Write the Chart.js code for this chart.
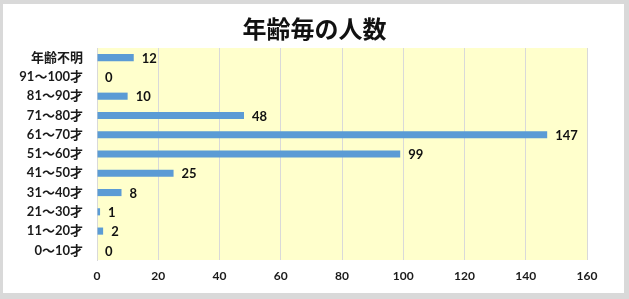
<!DOCTYPE html>
<html>
<head>
<meta charset="utf-8">
<script src="https://cdn.jsdelivr.net/npm/chart.js@4/dist/chart.umd.min.js"></script>
<style>
  body { margin: 0; background: #ffffff; }
  #frame {
    position: relative; width: 629px; height: 299px;
    background: #d9d9d9;
  }
  #inner {
    position: absolute; left: 3px; top: 4px; width: 621px; height: 289px;
    background: #ffffff;
  }
  canvas { position: absolute; left: 0; top: 0; }
</style>
</head>
<body>
<div id="frame"><div id="inner"></div>
  <canvas id="barChart" width="629" height="299"></canvas>
</div>
<script>
// 年齢毎の人数 (上から順)
const ageGroups = ['年齢不明', '91～100才', '81～90才', '71～80才', '61～70才', '51～60才',
                   '41～50才', '31～40才', '21～30才', '11～20才', '0～10才'];
const counts = [12, 0, 10, 48, 147, 99, 25, 8, 1, 2, 0];
const xTicks = [0, 20, 40, 60, 80, 100, 120, 140, 160];
const chartTitle = '年齢毎の人数';

const fontFamily = "Lato, 'Noto Sans CJK JP', sans-serif";

// プロットエリアの背景色
const plotBackground = {
    id: 'plotBackground',
    beforeDraw(chart) {
        const a = chart.chartArea;
        const ctx = chart.ctx;
        ctx.save();
        ctx.fillStyle = '#ffffcc';
        ctx.fillRect(a.left, a.top, a.right - a.left, a.bottom - a.top);
        ctx.restore();
    }
};

// タイトルは枠全体の中央に置く
const centerTitle = {
    id: 'centerTitle',
    afterDraw(chart) {
        const ctx = chart.ctx;
        ctx.save();
        ctx.font = 'bold 24px ' + fontFamily;
        ctx.fillStyle = '#111111';
        ctx.textAlign = 'center';
        ctx.textBaseline = 'middle';
        ctx.fillText(chartTitle, chart.width / 2, 30);
        ctx.restore();
    }
};

// 棒の右に数値を表示
const valueLabels = {
    id: 'valueLabels',
    afterDatasetsDraw(chart) {
        const ctx = chart.ctx;
        const meta = chart.getDatasetMeta(0);
        ctx.save();
        ctx.font = 'bold 13px ' + fontFamily;
        ctx.fillStyle = '#111111';
        ctx.textAlign = 'left';
        ctx.textBaseline = 'middle';
        meta.data.forEach(function(bar, i) {
            ctx.fillText(String(counts[i]), bar.x + 8, bar.y + 1);
        });
        ctx.restore();
    }
};

const ctx1 = document.getElementById('barChart').getContext('2d');
const barChart = new Chart(ctx1, {
    type: 'bar',
    data: {
        labels: ageGroups,
        datasets: [{
            label: '人数',
            data: counts,
            backgroundColor: '#5b9bd5',
            borderWidth: 0,
            barPercentage: 0.37,
            categoryPercentage: 1.0
        }]
    },
    options: {
        indexAxis: 'y',
        responsive: false,
        animation: false,
        layout: { padding: { left: 0, right: 42, top: 48, bottom: 0 } },
        scales: {
            x: {
                min: 0,
                max: 160,
                afterBuildTicks(scale) {
                    scale.ticks = xTicks.map(v => ({ value: v }));
                },
                afterFit(scale) { scale.height = 39; },
                grid: { color: '#d9d9d9', drawTicks: false },
                border: { display: false },
                ticks: {
                    padding: 9,
                    color: '#1a1a1a',
                    font: { family: fontFamily, size: 12, weight: 'bold' }
                }
            },
            y: {
                afterFit(scale) { scale.width = 97; },
                grid: { display: false },
                border: { display: true, color: '#d9d9d9' },
                ticks: {
                    padding: 6,
                    color: '#1a1a1a',
                    font: { family: fontFamily, size: 13, weight: 'bold' }
                }
            }
        },
        plugins: {
            legend: { display: false },
            tooltip: { enabled: false },
            title: { display: false }
        }
    },
    plugins: [plotBackground, centerTitle, valueLabels]
});
</script>
</body>
</html>
